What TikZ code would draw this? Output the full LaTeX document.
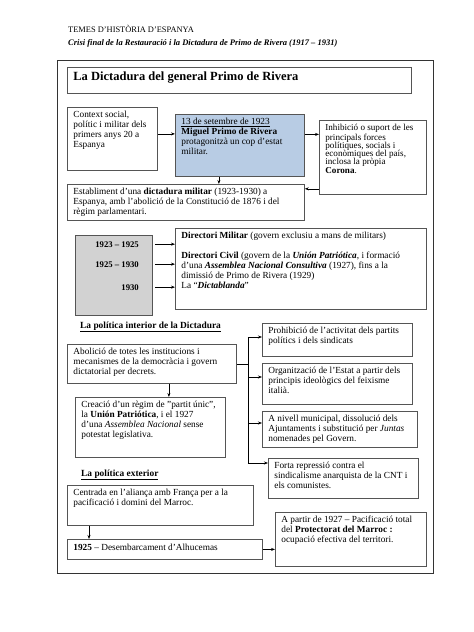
\documentclass[tikz,border=0pt]{standalone}
\usepackage{fontspec}
\setmainfont{Liberation Serif}
\usetikzlibrary{arrows.meta}

\definecolor{copblue}{HTML}{B8CCE4}
\definecolor{boxline}{HTML}{555555}

\tikzset{
  box/.style={draw=boxline, line width=0.8pt, fill=white, anchor=north west,
    inner xsep=6pt, inner ysep=4pt, font=\fontsize{9.3}{10}\selectfont},
  arr/.style={-{Stealth[length=4pt,width=3pt]}, line width=0.6pt},
  yearlabel/.style={anchor=base east, inner sep=0pt, font=\fontsize{8.7}{10}\selectfont\bfseries},
  heading/.style={anchor=base west, inner sep=0pt, font=\fontsize{9.4}{10}\selectfont\bfseries}
}

% fixed size text block, text at the top
\newcommand{\boxtext}[3]{\parbox[t][#2][t]{#1}{\raggedright #3}}

\begin{document}
\begin{tikzpicture}[x=1pt,y=-1pt]
\useasboundingbox (0,0) rectangle (474,632);

% header
  \node[anchor=base west, inner sep=0pt, font=\fontsize{8.4}{9}\selectfont] (topic) at (68,32) {TEMES D'HISTÒRIA D'ESPANYA};
  \node[anchor=base west, inner sep=0pt, font=\fontsize{8.5}{9}\selectfont\bfseries\itshape] (unit) at (68,45)
    {Crisi final de la Restauració i la Dictadura de Primo de Rivera (1917 – 1931)};

% page frame
  \draw[line width=1pt, black!80] (57,60) rectangle (433,573);

% title
  \node[box, font=\fontsize{12.5}{14}\selectfont\bfseries] (title) at (67,67) {\boxtext{332pt}{18pt}{La Dictadura del general Primo de Rivera}};

% the coup
  \node[box] (context) at (67,107) {\boxtext{78pt}{55pt}{Context social,\\ polític i militar dels\\ primers anys 20 a\\ Espanya}};
  \node[box, fill=copblue] (cop) at (175,114) {\boxtext{117pt}{54pt}{\underline{13 de setembre de 1923}\\ \textbf{Miguel Primo de Rivera}\\ protagonitzà un cop d'estat\\ militar.}};
  \node[box, font=\fontsize{9.1}{8.3}\selectfont] (inhib) at (319,120) {\boxtext{95pt}{66pt}{Inhibició o suport de les\\ principals forces\\ polítiques, socials i\\ econòmiques del país,\\ inclosa la pròpia\\ \textbf{Corona}.}};
  \node[box] (estab) at (67,184) {\boxtext{225pt}{28pt}{Establiment d'una \textbf{dictadura militar} (1923-1930) a\\ Espanya, amb l'abolició de la Constitució de 1876 i del\\ règim parlamentari.}};

  \draw[arr] ([yshift=5pt]context.east) -- ([yshift=5pt]context.east -| cop.west);
  \draw[arr] ([yshift=11pt]cop.east) -- ([yshift=11pt]cop.east -| inhib.west);
  \draw[arr] ([xshift=-21pt]cop.south) -- ([xshift=-21pt]cop.south |- estab.north);
  \draw[arr] ([yshift=6pt]inhib.south west) -- ([yshift=6pt]inhib.south west -| estab.east);

% the directories
  \node[box, fill=gray!35, minimum width=77pt, minimum height=80pt, inner sep=0pt] (years) at (75,235) {};
  \node[yearlabel] (y1) at (139,247) {1923 – 1925};
  \node[yearlabel] (y2) at (139,267) {1925 – 1930};
  \node[yearlabel] (y3) at (139,290) {1930};
  \node[box] (dir) at (175,228) {\boxtext{239pt}{73pt}{\textbf{Directori Militar} (govern exclusiu a mans de militars)\\[10pt]
    \textbf{Directori Civil} (govern de la \textbf{\textit{Unión Patriótica}}, i formació\\ d'una \textbf{\textit{Assemblea Nacional Consultiva}} (1927), fins a la\\ dimissió de Primo de Rivera (1929)\\ La “\textbf{\textit{Dictablanda}}”}};

  \foreach \y in {y1,y2,y3}
    \draw[arr, shorten <=2pt] (\y -| years.east) -- (\y -| dir.west);

% home policy
  \node[heading] (interior) at (80,328) {\underline{La política interior de la Dictadura}};
  \node[box] (abol) at (67,344) {\boxtext{157pt}{31pt}{Abolició de totes les institucions i\\ mecanismes de la democràcia i govern\\ dictatorial per decrets.}};
  \node[box] (creacio) at (75,397) {\boxtext{138pt}{52pt}{Creació d'un règim de "partit únic",\\ la \textbf{Unión Patriótica}, i el 1927\\ d'una \textit{Assemblea Nacional} sense\\ potestat legislativa.}};
  \node[box] (prohib) at (262,323) {\boxtext{138pt}{25pt}{Prohibició de l'activitat dels partits\\ polítics i dels sindicats}};
  \node[box] (org) at (262,363) {\boxtext{138pt}{33pt}{Organització de l'Estat a partir dels\\ principis ideològics del feixisme\\ italià.}};
  \node[box] (anivell) at (262,411) {\boxtext{143pt}{28pt}{A nivell municipal, dissolució dels\\ Ajuntaments i substitució per \textit{Juntas}\\ nomenades pel Govern.}};
  \node[box] (forta) at (268,458) {\boxtext{138pt}{32pt}{Forta repressió contra el\\ sindicalisme anarquista de la CNT i\\ els comunistes.}};

  \draw[arr] ([xshift=17pt]abol.south) -- ([xshift=17pt]abol.south |- creacio.north);
  \coordinate (bus) at ([xshift=11pt]abol.east);
  \draw[line width=0.6pt] (abol.east) -- (bus);
  \foreach \b/\dy in {prohib/14, org/14, anivell/12, forta/5}{
    \coordinate (t\b) at ([yshift=-\dy pt]\b.north west);
    \draw[arr] (t\b -| bus) -- (t\b);
  }
  \draw[line width=0.6pt] (bus |- tprohib) -- (bus |- tforta);

% foreign policy
  \node[heading] (exterior) at (81,476) {\underline{La política exterior}};
  \node[box] (centrada) at (67,485) {\boxtext{174pt}{32pt}{Centrada en l'aliança amb França per a la\\ pacificació i domini del Marroc.}};
  \node[box, inner ysep=5pt] (desemb) at (67,539) {\boxtext{183pt}{10pt}{\textbf{1925} – Desembarcament d'Alhucemas}};
  \node[box] (partir) at (275,512) {\boxtext{139pt}{46pt}{A partir de 1927 – Pacificació total\\ del \textbf{Protectorat del Marroc :}\\ ocupació efectiva del territori.}};

  \draw[arr] ([xshift=22pt]centrada.south west) -- ([xshift=22pt]centrada.south west |- desemb.north);
  \draw[arr] (desemb.east) -- (desemb.east -| partir.west);

\end{tikzpicture}
\end{document}
